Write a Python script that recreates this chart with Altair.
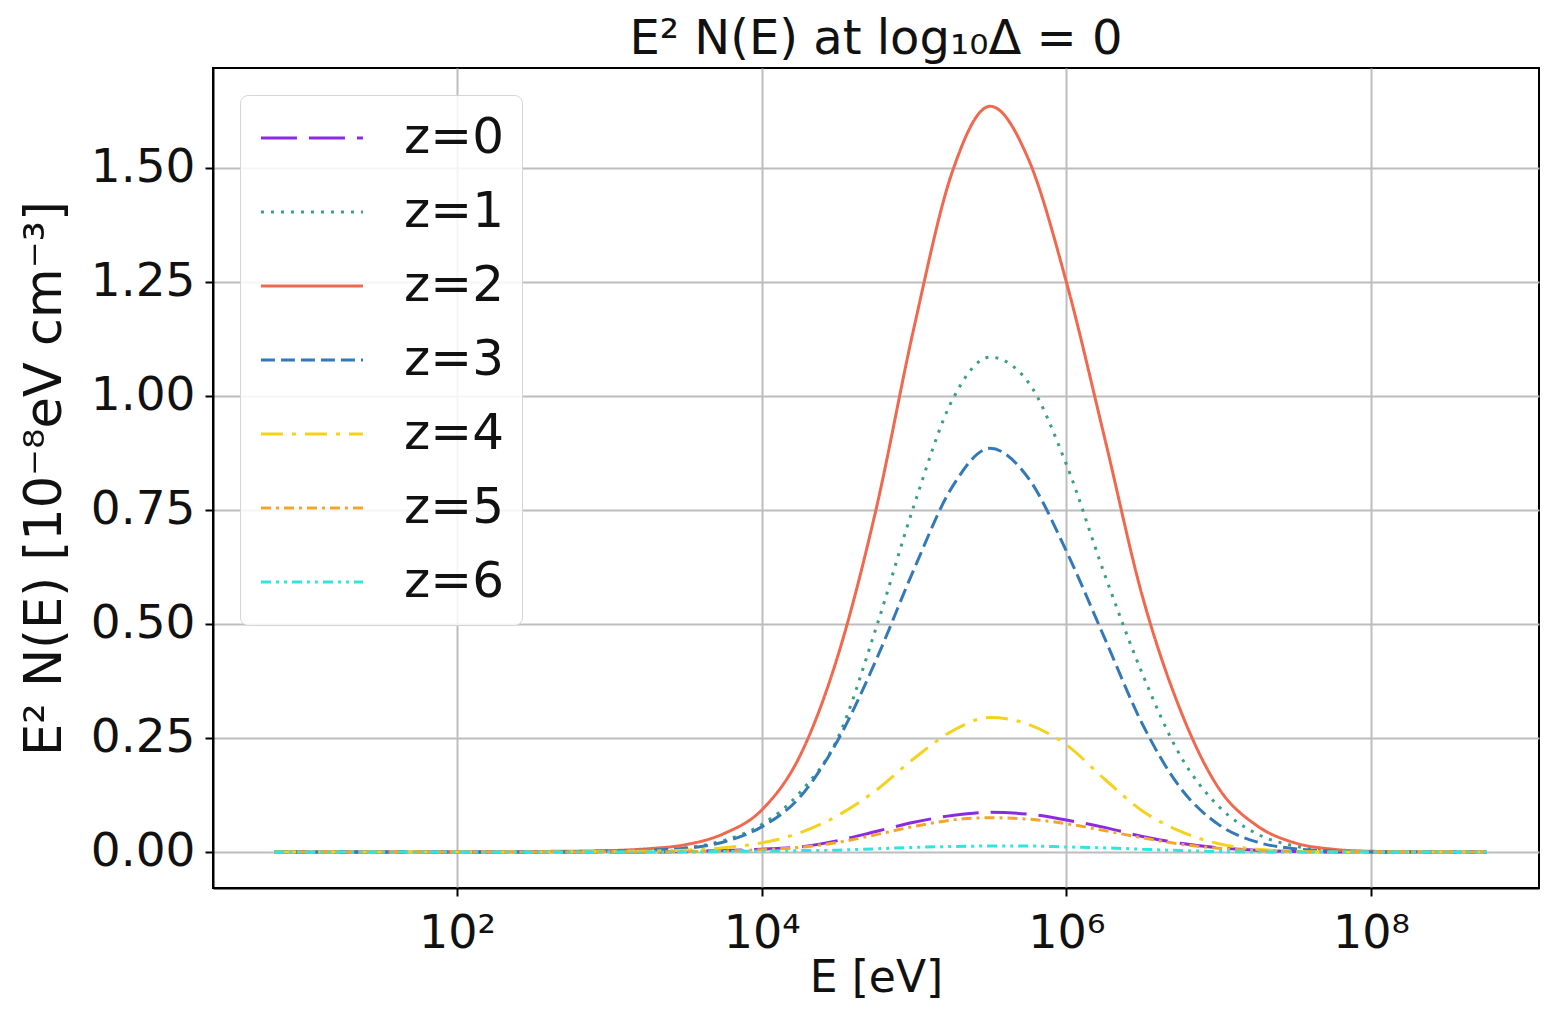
import altair as alt
import pandas as pd

# log10 of energy [eV] at which the curves were read
log10_E = [0.8, 1.5, 2.0, 2.5, 3.0, 3.25, 3.5, 3.75, 4.0, 4.25, 4.5, 4.75, 5.0, 5.25,
           5.5, 5.75, 6.0, 6.25, 6.5, 6.75, 7.0, 7.25, 7.5, 7.75, 8.0, 8.5, 8.76]

z0 = [0, 0, 0, 0, 0, 0, 0.001, 0.003, 0.006, 0.011, 0.025, 0.045, 0.065, 0.080,
      0.087, 0.083, 0.070, 0.054, 0.034, 0.019, 0.009, 0.004, 0.001, 0, 0, 0, 0]
z1 = [0, 0, 0, 0, 0.002, 0.004, 0.009, 0.025, 0.060, 0.130, 0.250, 0.490, 0.760, 0.990,
      1.085, 1.030, 0.850, 0.610, 0.390, 0.210, 0.100, 0.040, 0.013, 0.004, 0.001, 0, 0]
z2 = [0, 0, 0, 0.001, 0.003, 0.007, 0.016, 0.040, 0.092, 0.210, 0.430, 0.750, 1.150, 1.490,
      1.635, 1.520, 1.250, 0.910, 0.560, 0.310, 0.140, 0.058, 0.020, 0.006, 0.0015, 0, 0]
z3 = [0, 0, 0, 0, 0.002, 0.004, 0.008, 0.022, 0.055, 0.120, 0.245, 0.420, 0.620, 0.800,
      0.885, 0.820, 0.660, 0.470, 0.280, 0.140, 0.060, 0.022, 0.007, 0.002, 0, 0, 0]
z4 = [0, 0, 0, 0, 0.001, 0.002, 0.004, 0.009, 0.020, 0.042, 0.080, 0.135, 0.205, 0.265,
      0.295, 0.280, 0.235, 0.160, 0.090, 0.045, 0.018, 0.006, 0.002, 0, 0, 0, 0]
z5 = [0, 0, 0, 0, 0, 0, 0.001, 0.002, 0.005, 0.010, 0.021, 0.038, 0.056, 0.070,
      0.075, 0.072, 0.062, 0.047, 0.031, 0.017, 0.008, 0.003, 0.001, 0, 0, 0, 0]
z6 = [0, 0, 0, 0, 0, 0, 0, 0.001, 0.002, 0.003, 0.004, 0.007, 0.010, 0.012,
      0.013, 0.013, 0.011, 0.009, 0.006, 0.003, 0.001, 0, 0, 0, 0, 0, 0]

series_names = ["z=0", "z=1", "z=2", "z=3", "z=4", "z=5", "z=6"]
series_values = [z0, z1, z2, z3, z4, z5, z6]
series_colors = ["#8a2be2", "#3a9f86", "#f0684e", "#3379b8", "#f5d21c", "#f5a52a", "#2ee6e0"]
series_dashes = [[36, 12], [3, 7], [1, 0], [14, 6], [22, 9, 4, 9], [10, 5, 3, 5], [10, 5, 3, 5, 3, 5]]

x_ticks = [1e2, 1e4, 1e6, 1e8]
y_ticks = [0.0, 0.25, 0.5, 0.75, 1.0, 1.25, 1.5]

rows = []
for name, vals in zip(series_names, series_values):
    for le, v in zip(log10_E, vals):
        rows.append({"E": 10 ** le, "val": v, "z": name})
df = pd.DataFrame(rows)

FONT = "DejaVu Sans"

chart = alt.Chart(df).mark_line(strokeWidth=3, interpolate="monotone", clip=True).encode(
    x=alt.X("E:Q",
            scale=alt.Scale(type="log", domain=[10 ** 0.398, 10 ** 9.103], nice=False),
            axis=alt.Axis(values=x_ticks, title="E  [eV]",
                          labelExpr="datum.value == 100 ? '10²' : datum.value == 10000 ? '10⁴' : datum.value == 1000000 ? '10⁶' : '10⁸'",
                          labelFontSize=46, labelFont=FONT, labelColor="#111",
                          labelPadding=15, tickSize=8, tickWidth=2, tickColor="#000",
                          domainColor="#000", domainWidth=2,
                          titleFontSize=44, titleFont=FONT, titleFontWeight="normal",
                          titleColor="#111", titleY=90, titleBaseline="middle",
                          grid=True, gridColor="#bdbdbd", gridWidth=2)),
    y=alt.Y("val:Q",
            scale=alt.Scale(domain=[-0.079, 1.719], nice=False, zero=False),
            axis=alt.Axis(values=y_ticks, format=".2f",
                          title="E² N(E)  [10⁻⁸eV cm⁻³]",
                          labelFontSize=47, labelFont=FONT, labelColor="#111",
                          labelPadding=10, tickSize=8, tickWidth=2, tickColor="#000",
                          domainColor="#000", domainWidth=2,
                          titleFontSize=51, titleFont=FONT, titleFontWeight="normal",
                          titleColor="#111", titleX=-168, titleY=410, titleAngle=-90,
                          titleAlign="center", titleBaseline="middle",
                          grid=True, gridColor="#bdbdbd", gridWidth=2)),
    color=alt.Color("z:N",
                    scale=alt.Scale(domain=series_names, range=series_colors),
                    legend=alt.Legend(title=None, orient="none", legendX=27, legendY=27,
                                      symbolType="M-1.47,0H5.33", symbolSize=900,
                                      symbolStrokeWidth=3, labelFontSize=50, labelFont=FONT,
                                      labelColor="#111", labelOffset=96, rowPadding=24,
                                      padding=18, fillColor="rgba(255,255,255,0.85)",
                                      strokeColor="#d5d5d5", cornerRadius=8)),
    strokeDash=alt.StrokeDash("z:N",
                              scale=alt.Scale(domain=series_names, range=series_dashes),
                              legend=None),
).properties(
    width=1326, height=820,
    title=alt.TitleParams("E² N(E) at log₁₀Δ = 0", fontSize=48, font=FONT,
                          fontWeight="normal", color="#111", anchor="middle",
                          baseline="alphabetic", offset=13, dy=47),
    autosize=alt.AutoSizeParams(type="none"),
    padding={"left": 205, "top": 60, "right": 1, "bottom": 116},
    background="white",
).configure_view(stroke="#000", strokeWidth=2)

chart.save("out.html", embed_options={"renderer": "svg", "actions": False})
